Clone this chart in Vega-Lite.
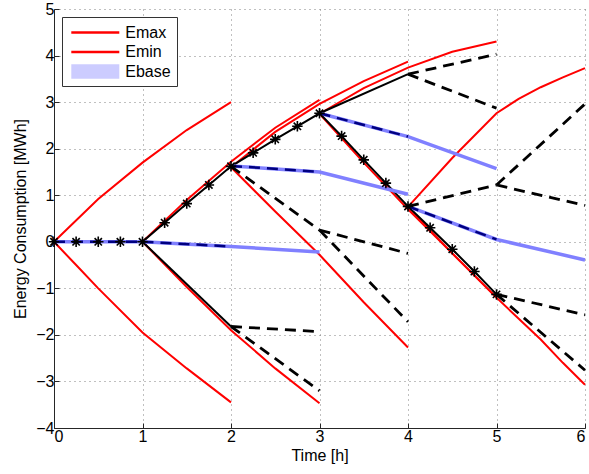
{
  "$schema": "https://vega.github.io/schema/vega-lite/v6.json",
  "width": 531,
  "height": 419,
  "autosize": {"type": "none"},
  "padding": {"left": 54, "top": 9, "right": 4, "bottom": 46},
  "background": "white",
  "config": {
    "view": {"stroke": null},
    "font": "Liberation Sans",
    "axis": {
      "domainColor": "#262626",
      "domainWidth": 1,
      "tickColor": "#262626",
      "tickSize": -5,
      "tickWidth": 1,
      "labelFont": "Liberation Sans",
      "labelFontSize": 16,
      "labelColor": "#000000",
      "titleFont": "Liberation Sans",
      "titleFontSize": 16,
      "titleFontWeight": "normal",
      "titleColor": "#000000",
      "gridColor": "#808080",
      "gridDash": [1, 4],
      "gridOpacity": 1,
      "gridWidth": 1,
      "labelPadding": 5
    },
    "legend": {
      "orient": "top-left",
      "offset": 8,
      "padding": 6,
      "strokeColor": "#333333",
      "fillColor": "white",
      "cornerRadius": 0,
      "symbolType": "M-3,0L3,0",
      "symbolSize": 256,
      "symbolStrokeWidth": 2.5,
      "symbolOffset": 17.8,
      "labelFont": "Liberation Sans",
      "labelFontSize": 16,
      "labelColor": "#000000",
      "labelOffset": 20.5,
      "rowPadding": 1.5
    }
  },
  "data": {
    "values": [
      {"g": "R0u", "k": "Emax", "t": 0, "e": 0},
      {"g": "R0u", "k": "Emax", "t": 0.5, "e": 0.92},
      {"g": "R0u", "k": "Emax", "t": 1, "e": 1.7},
      {"g": "R0u", "k": "Emax", "t": 1.5, "e": 2.4},
      {"g": "R0u", "k": "Emax", "t": 2, "e": 3.0},
      {"g": "R1u", "k": "Emax", "t": 1, "e": 0},
      {"g": "R1u", "k": "Emax", "t": 1.5, "e": 0.9},
      {"g": "R1u", "k": "Emax", "t": 2, "e": 1.72},
      {"g": "R1u", "k": "Emax", "t": 2.5, "e": 2.45},
      {"g": "R1u", "k": "Emax", "t": 3, "e": 3.05},
      {"g": "R2u", "k": "Emax", "t": 2, "e": 1.6},
      {"g": "R2u", "k": "Emax", "t": 2.5, "e": 2.36},
      {"g": "R2u", "k": "Emax", "t": 3, "e": 2.96},
      {"g": "R2u", "k": "Emax", "t": 3.5, "e": 3.45},
      {"g": "R2u", "k": "Emax", "t": 4, "e": 3.87},
      {"g": "R3u", "k": "Emax", "t": 3, "e": 2.75},
      {"g": "R3u", "k": "Emax", "t": 3.5, "e": 3.3},
      {"g": "R3u", "k": "Emax", "t": 4, "e": 3.74},
      {"g": "R3u", "k": "Emax", "t": 4.5, "e": 4.08},
      {"g": "R3u", "k": "Emax", "t": 5, "e": 4.3},
      {"g": "R4u", "k": "Emax", "t": 4, "e": 0.75},
      {"g": "R4u", "k": "Emax", "t": 4.5, "e": 1.8},
      {"g": "R4u", "k": "Emax", "t": 5, "e": 2.76},
      {"g": "R4u", "k": "Emax", "t": 5.25, "e": 3.07},
      {"g": "R4u", "k": "Emax", "t": 5.5, "e": 3.32},
      {"g": "R4u", "k": "Emax", "t": 5.75, "e": 3.53},
      {"g": "R4u", "k": "Emax", "t": 6, "e": 3.73},
      {"g": "R0d", "k": "Emin", "t": 0, "e": 0},
      {"g": "R0d", "k": "Emin", "t": 0.25, "e": -0.5},
      {"g": "R0d", "k": "Emin", "t": 0.5, "e": -1.0},
      {"g": "R0d", "k": "Emin", "t": 1, "e": -1.95},
      {"g": "R0d", "k": "Emin", "t": 1.5, "e": -2.72},
      {"g": "R0d", "k": "Emin", "t": 2, "e": -3.45},
      {"g": "R1d", "k": "Emin", "t": 1, "e": 0},
      {"g": "R1d", "k": "Emin", "t": 1.5, "e": -0.97},
      {"g": "R1d", "k": "Emin", "t": 2, "e": -1.9},
      {"g": "R1d", "k": "Emin", "t": 2.5, "e": -2.72},
      {"g": "R1d", "k": "Emin", "t": 3, "e": -3.47},
      {"g": "R2d", "k": "Emin", "t": 2, "e": 1.6},
      {"g": "R2d", "k": "Emin", "t": 2.5, "e": 0.65},
      {"g": "R2d", "k": "Emin", "t": 3, "e": -0.28},
      {"g": "R2d", "k": "Emin", "t": 3.5, "e": -1.3},
      {"g": "R2d", "k": "Emin", "t": 4, "e": -2.27},
      {"g": "R3d", "k": "Emin", "t": 3, "e": 2.75},
      {"g": "R3d", "k": "Emin", "t": 3.5, "e": 1.7},
      {"g": "R3d", "k": "Emin", "t": 4, "e": 0.7},
      {"g": "R3d", "k": "Emin", "t": 4.5, "e": -0.25},
      {"g": "R3d", "k": "Emin", "t": 5, "e": -1.2},
      {"g": "R4d", "k": "Emin", "t": 4, "e": 0.75},
      {"g": "R4d", "k": "Emin", "t": 4.5, "e": -0.25},
      {"g": "R4d", "k": "Emin", "t": 5, "e": -1.2},
      {"g": "R4d", "k": "Emin", "t": 5.5, "e": -2.1},
      {"g": "R4d", "k": "Emin", "t": 5.75, "e": -2.6},
      {"g": "R4d", "k": "Emin", "t": 6, "e": -3.07},
      {"g": "P", "k": "path", "t": 0, "e": 0},
      {"g": "P", "k": "path", "t": 0.25, "e": 0},
      {"g": "P", "k": "path", "t": 0.5, "e": 0},
      {"g": "P", "k": "path", "t": 0.75, "e": 0},
      {"g": "P", "k": "path", "t": 1, "e": 0},
      {"g": "P", "k": "path", "t": 1.25, "e": 0.41},
      {"g": "P", "k": "path", "t": 1.5, "e": 0.82},
      {"g": "P", "k": "path", "t": 1.75, "e": 1.22},
      {"g": "P", "k": "path", "t": 2, "e": 1.62},
      {"g": "P", "k": "path", "t": 2.25, "e": 1.91},
      {"g": "P", "k": "path", "t": 2.5, "e": 2.2},
      {"g": "P", "k": "path", "t": 2.75, "e": 2.48},
      {"g": "P", "k": "path", "t": 3, "e": 2.76},
      {"g": "P", "k": "path", "t": 3.25, "e": 2.27},
      {"g": "P", "k": "path", "t": 3.5, "e": 1.76},
      {"g": "P", "k": "path", "t": 3.75, "e": 1.26},
      {"g": "P", "k": "path", "t": 4, "e": 0.76},
      {"g": "P", "k": "path", "t": 4.25, "e": 0.3},
      {"g": "P", "k": "path", "t": 4.5, "e": -0.16},
      {"g": "P", "k": "path", "t": 4.75, "e": -0.64},
      {"g": "P", "k": "path", "t": 5, "e": -1.13},
      {"g": "A1", "k": "alt", "t": 1, "e": 0},
      {"g": "A1", "k": "alt", "t": 2, "e": -1.82},
      {"g": "A2", "k": "alt", "t": 3, "e": 2.76},
      {"g": "A2", "k": "alt", "t": 4, "e": 3.6},
      {"g": "B0", "k": "Ebase", "t": 0, "e": 0},
      {"g": "B0", "k": "Ebase", "t": 1, "e": 0},
      {"g": "B1", "k": "Ebase", "t": 1, "e": 0},
      {"g": "B1", "k": "Ebase", "t": 2, "e": -0.1},
      {"g": "B1", "k": "Ebase", "t": 3, "e": -0.22},
      {"g": "B2", "k": "Ebase", "t": 2, "e": 1.63},
      {"g": "B2", "k": "Ebase", "t": 3, "e": 1.5},
      {"g": "B2", "k": "Ebase", "t": 4, "e": 1.02},
      {"g": "B3", "k": "Ebase", "t": 3, "e": 2.76},
      {"g": "B3", "k": "Ebase", "t": 4, "e": 2.26},
      {"g": "B3", "k": "Ebase", "t": 5, "e": 1.57},
      {"g": "B4", "k": "Ebase", "t": 4, "e": 0.76},
      {"g": "B4", "k": "Ebase", "t": 5, "e": 0.05},
      {"g": "B4", "k": "Ebase", "t": 6, "e": -0.39},
      {"g": "N0", "k": "navy", "t": 0, "e": 0},
      {"g": "N0", "k": "navy", "t": 1, "e": 0},
      {"g": "N1", "k": "navy", "t": 1, "e": 0},
      {"g": "N1", "k": "navy", "t": 2, "e": -0.1},
      {"g": "N2", "k": "navy", "t": 2, "e": 1.63},
      {"g": "N2", "k": "navy", "t": 3, "e": 1.5},
      {"g": "N3", "k": "navy", "t": 3, "e": 2.76},
      {"g": "N3", "k": "navy", "t": 4, "e": 2.26},
      {"g": "N4", "k": "navy", "t": 4, "e": 0.76},
      {"g": "N4", "k": "navy", "t": 5, "e": 0.05},
      {"g": "D1", "k": "dash", "t": 2, "e": -1.82},
      {"g": "D1", "k": "dash", "t": 3, "e": -1.93},
      {"g": "D2", "k": "dash", "t": 2, "e": -1.82},
      {"g": "D2", "k": "dash", "t": 3, "e": -3.2},
      {"g": "D3", "k": "dash", "t": 2, "e": 1.62},
      {"g": "D3", "k": "dash", "t": 3, "e": 0.25},
      {"g": "D4", "k": "dash", "t": 3, "e": 0.25},
      {"g": "D4", "k": "dash", "t": 4, "e": -0.25},
      {"g": "D5", "k": "dash", "t": 3, "e": 0.25},
      {"g": "D5", "k": "dash", "t": 4, "e": -1.72},
      {"g": "D6", "k": "dash", "t": 4, "e": 3.6},
      {"g": "D6", "k": "dash", "t": 5, "e": 4.03},
      {"g": "D7", "k": "dash", "t": 4, "e": 3.6},
      {"g": "D7", "k": "dash", "t": 5, "e": 2.87},
      {"g": "D8", "k": "dash", "t": 4, "e": 0.76},
      {"g": "D8", "k": "dash", "t": 5, "e": 1.22},
      {"g": "D9", "k": "dash", "t": 5, "e": 1.22},
      {"g": "D9", "k": "dash", "t": 6, "e": 0.78},
      {"g": "D10", "k": "dash", "t": 5, "e": 1.22},
      {"g": "D10", "k": "dash", "t": 6, "e": 2.96},
      {"g": "D11", "k": "dash", "t": 5, "e": -1.13},
      {"g": "D11", "k": "dash", "t": 6, "e": -1.57},
      {"g": "D12", "k": "dash", "t": 5, "e": -1.13},
      {"g": "D12", "k": "dash", "t": 6, "e": -2.76}
    ]
  },
  "encoding": {
    "x": {
      "field": "t",
      "type": "quantitative",
      "scale": {"domain": [0, 6], "nice": false, "zero": false},
      "axis": {"title": "Time [h]", "values": [0, 1, 2, 3, 4, 5, 6], "grid": true, "titlePadding": 3}
    },
    "y": {
      "field": "e",
      "type": "quantitative",
      "scale": {"domain": [-4, 5], "nice": false, "zero": false},
      "axis": {"title": "Energy Consumption [MWh]", "values": [-4, -3, -2, -1, 0, 1, 2, 3, 4, 5], "grid": true, "titlePadding": 7}
    }
  },
  "layer": [
    {
      "transform": [{"filter": "datum.k === 'Emax' || datum.k === 'Emin'"}],
      "mark": {"type": "line", "strokeWidth": 2},
      "encoding": {
        "detail": {"field": "g"},
        "color": {
          "field": "k",
          "type": "nominal",
          "scale": {"domain": ["Emax", "Emin", "Ebase"], "range": ["#ff0000", "#ff0000", "#8080ff"]},
          "legend": {
            "title": null,
            "encode": {
              "symbols": {
                "update": {
                  "shape": {"signal": "datum.value === 'Ebase' ? 'M-3,-0.9L3,-0.9L3,0.9L-3,0.9Z' : 'M-3,0L3,0'"},
                  "fill": {"signal": "datum.value === 'Ebase' ? '#ccccff' : 'transparent'"},
                  "strokeOpacity": {"signal": "datum.value === 'Ebase' ? 0 : 1"}
                }
              }
            }
          }
        }
      }
    },
    {
      "transform": [{"filter": "datum.k === 'path'"}],
      "mark": {"type": "line", "strokeWidth": 2, "color": "#000000"},
      "encoding": {"detail": {"field": "g"}}
    },
    {
      "transform": [{"filter": "datum.k === 'alt'"}],
      "mark": {"type": "line", "strokeWidth": 2, "color": "#000000"},
      "encoding": {"detail": {"field": "g"}}
    },
    {
      "transform": [{"filter": "datum.k === 'Ebase'"}],
      "mark": {"type": "line", "strokeWidth": 3.5},
      "encoding": {
        "detail": {"field": "g"},
        "color": {"field": "k", "type": "nominal"}
      }
    },
    {
      "transform": [{"filter": "datum.k === 'navy'"}],
      "mark": {"type": "line", "strokeWidth": 2.5, "color": "#000080", "strokeDash": [11, 7]},
      "encoding": {"detail": {"field": "g"}}
    },
    {
      "transform": [{"filter": "datum.k === 'dash'"}],
      "mark": {"type": "line", "strokeWidth": 2.8, "color": "#000000", "strokeDash": [11, 7]},
      "encoding": {"detail": {"field": "g"}}
    },
    {
      "transform": [{"filter": "datum.k === 'path'"}],
      "mark": {
        "type": "point",
        "shape": "M-1,0L1,0M0,-1L0,1M-0.7,-0.7L0.7,0.7M-0.7,0.7L0.7,-0.7",
        "filled": false,
        "stroke": "#000000",
        "strokeWidth": 1.6,
        "size": 110,
        "opacity": 1
      }
    }
  ]
}
